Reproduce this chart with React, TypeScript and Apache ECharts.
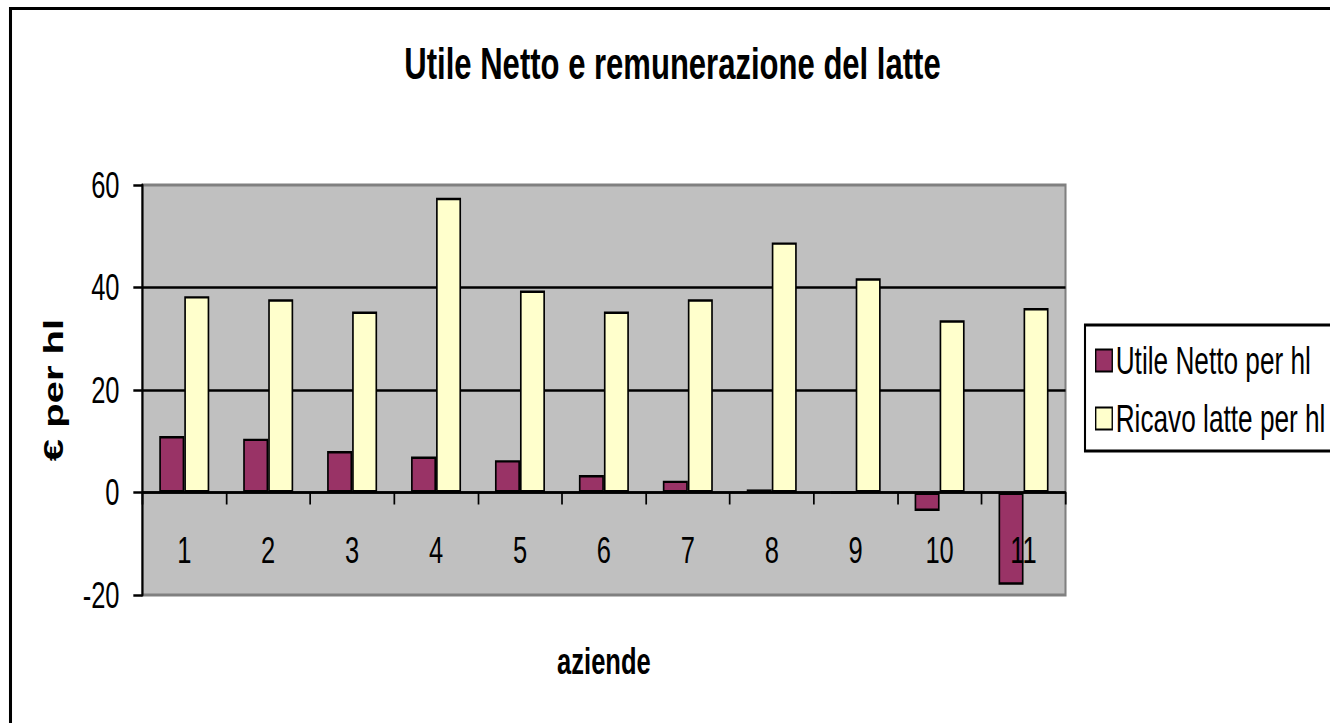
import React, { useEffect, useRef } from "react";
import * as echarts from "echarts";

// ---- data ----
const categories = ["1", "2", "3", "4", "5", "6", "7", "8", "9", "10", "11"];
const utileNettoPerHl = [11.0, 10.5, 8.1, 7.0, 6.3, 3.4, 2.3, 0.6, 0, -3.6, -18.0];
const ricavoLattePerHl = [38.3, 37.7, 35.3, 57.5, 39.4, 35.3, 37.7, 48.8, 41.8, 33.6, 36.0];
const seriesNames = ["Utile Netto per hl", "Ricavo latte per hl"];
const yMin = -20;
const yMax = 60;
const yInterval = 20;
const titleText = "Utile Netto e remunerazione del latte";
const xAxisName = "aziende";
const yAxisName = "€ per hl";

// ---- layout (the original picture is horizontally squeezed) ----
const SX = 0.69;
const W = Math.ceil(1330 / SX);
const H = 723;
const X = (px: number) => px / SX;
const FONT = "'Liberation Sans', Arial, sans-serif";

const GRID_TOP = 185;
const GRID_H = 410;
const GRID_BOTTOM = GRID_TOP + GRID_H;

export default function App() {
  const ref = useRef<HTMLDivElement>(null);

  useEffect(() => {
    if (!ref.current) return;
    const chart = echarts.init(ref.current, null, { renderer: "svg" });
    const gridLeft = X(142.3);
    const gridRight = X(1065.5);
    const option: any = {
      animation: false,
      backgroundColor: "#ffffff",
      textStyle: { fontFamily: FONT },
      grid: {
        left: gridLeft,
        top: GRID_TOP,
        width: gridRight - gridLeft,
        height: GRID_H,
        show: true,
        backgroundColor: "#C0C0C0",
        borderColor: "#808080",
        borderWidth: 3,
        containLabel: false,
        outerBoundsMode: "none",
      },
      legend: {
        orient: "vertical",
        left: X(1085),
        top: 325,
        padding: [16.5, 40, 13.5, X(1095) - X(1085)],
        itemGap: 20,
        itemWidth: 24,
        itemHeight: 22,
        icon: "rect",
        borderColor: "#000000",
        borderWidth: 3,
        backgroundColor: "#ffffff",
        textStyle: { fontSize: 38, color: "#000000", fontFamily: FONT },
        itemStyle: { borderColor: "#000000", borderWidth: 2 },
        data: seriesNames,
      },
      xAxis: [
        {
          type: "category",
          data: categories,
          position: "bottom",
          offset: 0,
          axisLine: { onZero: true, lineStyle: { color: "#000000", width: 2.5 } },
          axisTick: { show: true, length: 12, lineStyle: { color: "#000000", width: 2.5 } },
          axisLabel: { show: false },
          splitLine: { show: false },
        },
        {
          type: "category",
          data: categories,
          position: "bottom",
          offset: 0,
          z: 5,
          name: xAxisName,
          nameLocation: "middle",
          nameGap: 642.7 - GRID_BOTTOM,
          nameTextStyle: { fontSize: 37, fontWeight: "bold", color: "#000000", fontFamily: FONT },
          axisLine: { show: false, onZero: false },
          axisTick: { show: false },
          axisLabel: { fontSize: 37, color: "#000000", margin: 532 - GRID_BOTTOM, fontFamily: FONT },
          splitLine: { show: false },
        },
      ],
      yAxis: {
        type: "value",
        min: yMin,
        max: yMax,
        interval: yInterval,
        name: yAxisName,
        nameLocation: "middle",
        nameGap: 109,
        nameTextStyle: { fontSize: 40, fontWeight: "bold", color: "#000000", fontFamily: FONT },
        axisLine: { show: true, onZero: false, lineStyle: { color: "#000000", width: 3 } },
        axisTick: { show: true, length: 13, lineStyle: { color: "#000000", width: 2.5 } },
        axisLabel: { fontSize: 37, color: "#000000", margin: 33, fontFamily: FONT },
        splitLine: {
          show: true,
          showMinLine: false,
          showMaxLine: false,
          lineStyle: { color: "#000000", width: 2.5 },
        },
      },
      series: [
        {
          name: seriesNames[0],
          type: "bar",
          xAxisIndex: 0,
          data: utileNettoPerHl,
          barGap: "0%",
          barCategoryGap: "40.4%",
          itemStyle: { color: "#993366", borderColor: "#000000", borderWidth: 2.4 },
        },
        {
          name: seriesNames[1],
          type: "bar",
          xAxisIndex: 0,
          data: ricavoLattePerHl,
          barGap: "0%",
          barCategoryGap: "40.4%",
          itemStyle: { color: "#FFFFCC", borderColor: "#000000", borderWidth: 2.4 },
        },
      ],
      graphic: [
        {
          type: "text",
          x: X(672.5),
          y: 63.5,
          silent: true,
          style: {
            text: titleText,
            fontSize: 45,
            fontWeight: "bold",
            fontFamily: FONT,
            fill: "#000000",
            align: "center",
            verticalAlign: "middle",
          },
        },
        {
          type: "line",
          silent: true,
          shape: { x1: X(10.5), y1: 7, x2: X(10.5), y2: H + 10 },
          style: { stroke: "#000000", lineWidth: 4.4 },
        },
        {
          type: "line",
          silent: true,
          shape: { x1: X(9), y1: 8.5, x2: W + 10, y2: 8.5 },
          style: { stroke: "#000000", lineWidth: 3 },
        },
      ],
    };
    chart.setOption(option);
    return () => chart.dispose();
  }, []);

  return (
    <div
      style={{
        position: "absolute",
        left: 0,
        top: 0,
        width: 1330,
        height: 723,
        overflow: "hidden",
        background: "#ffffff",
      }}
    >
      <div
        ref={ref}
        style={{
          width: W,
          height: H,
          transform: `scaleX(${SX})`,
          transformOrigin: "0 0",
        }}
      />
    </div>
  );
}
